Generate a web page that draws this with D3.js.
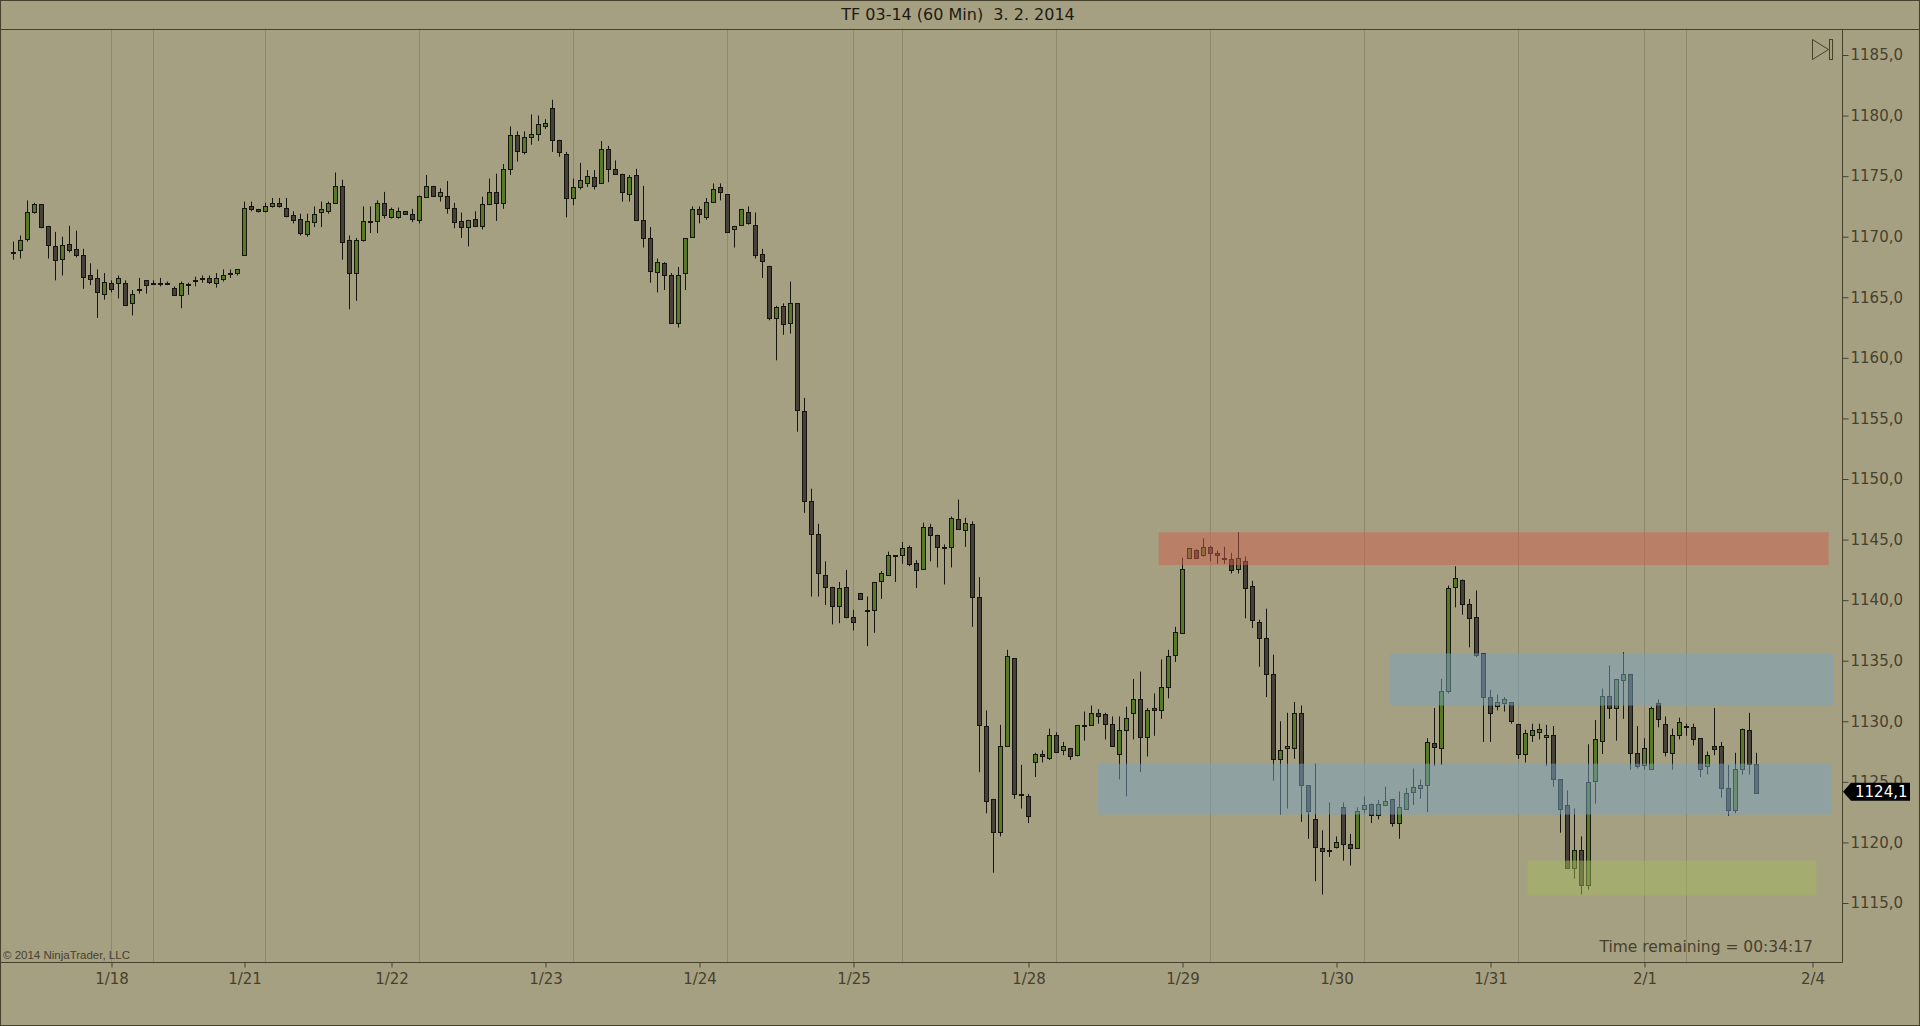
<!DOCTYPE html>
<html>
<head>
<meta charset="utf-8">
<script src="https://cdn.jsdelivr.net/npm/d3@7"></script>
<style>
  html, body { margin: 0; padding: 0; background: #a6a083; }
  svg { display: block; }
</style>
</head>
<body>
<svg width="1920" height="1026"></svg>
<script>

// 60 min bars, TF 03-14 (bar 0 = first bar on the left)
var opens = [
  1168.7,1168.9,1169.8,1172.0,1172.7,1170.9,1169.2,1168.2,1169.4,1169.0,
  1168.5,1166.8,1166.6,1165.3,1166.2,1166.2,1166.2,1164.5,1165.7,1166.4,
  1166.2,1166.2,1166.2,1165.8,1165.2,1166.1,1166.4,1166.6,1166.6,1166.2,
  1166.5,1167.0,1167.0,1168.5,1172.5,1172.3,1172.1,1172.5,1172.8,1172.4,
  1171.8,1171.5,1170.2,1171.2,1172.0,1172.1,1172.8,1174.2,1169.7,1167.0,
  1169.7,1171.3,1171.3,1172.8,1171.6,1171.6,1172.1,1171.9,1171.4,1173.3,
  1174.2,1173.4,1173.4,1172.4,1171.3,1170.8,1171.5,1170.9,1172.7,1173.7,
  1172.8,1175.6,1178.4,1177.0,1178.2,1178.5,1179.1,1180.6,1178.0,1176.8,
  1173.2,1174.1,1174.4,1174.9,1174.4,1177.2,1175.6,1175.2,1173.5,1175.1,
  1171.4,1169.9,1167.1,1167.8,1166.8,1162.9,1167.0,1170.0,1172.3,1171.6,
  1172.9,1174.1,1173.5,1170.6,1171.0,1172.0,1171.0,1168.6,1167.6,1163.3,
  1164.3,1162.9,1164.5,1155.6,1148.2,1145.5,1142.1,1141.1,1139.5,1141.1,
  1138.6,1140.6,1139.2,1139.2,1141.6,1142.1,1143.7,1143.7,1144.4,1143.1,
  1142.6,1146.0,1145.4,1144.4,1144.4,1146.7,1145.8,1146.3,1140.3,1129.6,
  1123.6,1120.9,1128.0,1135.2,1124.0,1123.8,1126.6,1127.3,1127.0,1128.9,
  1127.6,1127.8,1127.2,1129.7,1129.7,1130.7,1130.6,1129.8,1127.3,1129.3,
  1130.7,1131.8,1128.7,1131.1,1130.9,1132.8,1135.5,1137.3,1143.5,1144.1,
  1143.7,1144.4,1143.9,1143.5,1143.4,1142.6,1143.2,1141.2,1138.2,1136.9,
  1133.9,1126.9,1127.8,1127.8,1130.7,1124.7,1121.9,1119.5,1119.4,1119.6,
  1122.9,1119.9,1119.5,1122.8,1123.2,1122.3,1123.1,1123.6,1121.6,1122.8,
  1124.2,1124.5,1124.7,1128.2,1127.8,1132.5,1141.1,1141.7,1139.7,1138.6,
  1135.6,1132.0,1131.3,1131.5,1131.6,1129.8,1127.3,1128.9,1129.1,1128.7,
  1128.9,1125.2,1123.1,1117.9,1119.4,1116.5,1125.1,1128.4,1132.1,1131.1,
  1133.4,1133.9,1127.4,1126.4,1126.1,1131.5,1129.8,1127.4,1128.9,1129.6,
  1129.5,1128.6,1126.3,1128.0,1128.0,1124.5,1122.7,1126.1,1129.3,1126.5
];

var highs = [
  1169.6,1170.1,1173.0,1172.8,1172.7,1170.9,1170.4,1170.0,1170.9,1170.5,
  1169.0,1167.8,1167.3,1167.0,1166.4,1166.8,1166.4,1165.6,1166.6,1166.4,
  1166.4,1166.6,1166.3,1165.9,1166.3,1166.2,1166.7,1166.8,1166.8,1167.0,
  1167.3,1167.3,1167.3,1172.9,1172.9,1172.3,1172.8,1173.2,1173.2,1173.2,
  1172.1,1171.9,1171.9,1172.5,1172.9,1172.9,1175.3,1174.7,1170.1,1169.9,
  1172.5,1172.5,1173.0,1173.7,1172.4,1172.4,1172.1,1172.3,1173.4,1175.1,
  1174.2,1174.0,1174.6,1172.8,1172.0,1171.4,1172.1,1173.3,1174.8,1175.2,
  1176.0,1179.1,1178.7,1178.7,1180.1,1180.0,1179.7,1181.3,1178.0,1177.0,
  1174.8,1176.1,1175.5,1175.5,1177.9,1177.5,1176.3,1175.2,1175.1,1175.6,
  1174.2,1170.8,1168.2,1167.9,1167.0,1167.5,1169.9,1172.5,1172.5,1173.2,
  1174.4,1174.4,1173.5,1170.9,1172.3,1172.5,1172.0,1169.0,1167.6,1164.3,
  1164.5,1166.3,1164.5,1156.7,1149.2,1146.3,1143.2,1141.1,1141.5,1142.5,
  1139.2,1140.6,1140.3,1141.5,1142.4,1144.0,1143.7,1144.8,1144.5,1143.3,
  1146.4,1146.3,1145.4,1144.6,1146.9,1148.3,1146.8,1146.5,1141.9,1130.9,
  1123.6,1129.7,1135.9,1135.2,1126.4,1124.0,1127.4,1127.6,1129.4,1129.1,
  1128.3,1127.8,1129.7,1130.8,1131.3,1131.0,1130.7,1130.4,1130.4,1131.2,
  1133.5,1134.1,1131.1,1132.3,1135.1,1135.9,1137.8,1143.5,1144.3,1144.2,
  1145.1,1144.5,1144.1,1144.4,1143.9,1145.6,1143.6,1141.6,1138.4,1139.3,
  1135.5,1130.0,1130.7,1131.6,1131.3,1124.7,1126.5,1121.0,1123.3,1120.5,
  1123.3,1120.7,1122.9,1123.8,1123.2,1123.5,1124.6,1123.6,1124.2,1124.5,
  1126.1,1125.2,1128.6,1131.1,1133.5,1141.2,1142.8,1141.7,1140.1,1140.8,
  1135.6,1132.6,1132.2,1132.0,1131.6,1129.8,1129.3,1129.8,1129.8,1129.7,
  1129.6,1125.2,1124.3,1122.8,1120.5,1128.1,1130.1,1132.7,1134.6,1133.5,
  1135.7,1133.9,1129.6,1128.6,1131.2,1131.8,1130.4,1129.4,1130.3,1129.8,
  1129.8,1128.6,1127.5,1131.1,1128.3,1126.4,1127.4,1129.4,1130.7,1127.4
];

var lows = [
  1168.1,1168.2,1169.6,1171.9,1170.7,1168.2,1166.4,1166.8,1168.7,1168.3,
  1165.7,1166.0,1163.3,1164.8,1165.4,1164.9,1164.3,1163.5,1165.3,1165.3,
  1166.1,1165.9,1166.0,1165.1,1164.1,1165.2,1165.9,1166.2,1166.1,1165.8,
  1166.3,1166.6,1166.8,1168.5,1172.1,1172.0,1172.0,1172.4,1172.4,1171.6,
  1171.1,1170.1,1170.0,1170.8,1170.8,1171.9,1172.7,1168.1,1164.0,1164.7,
  1169.6,1170.3,1170.3,1171.5,1171.5,1171.5,1171.9,1171.2,1171.1,1173.2,
  1173.4,1172.9,1171.9,1170.7,1169.9,1169.2,1170.8,1170.6,1172.6,1171.3,
  1172.3,1175.1,1176.2,1176.8,1177.6,1177.9,1178.9,1177.0,1176.6,1171.6,
  1172.6,1173.9,1174.1,1173.9,1174.4,1174.5,1175.2,1172.9,1172.9,1171.3,
  1169.1,1166.2,1165.4,1165.6,1162.9,1162.5,1165.6,1169.9,1171.1,1171.4,
  1172.8,1173.0,1170.3,1169.1,1170.9,1171.0,1168.2,1166.6,1163.1,1159.8,
  1161.9,1162.0,1153.9,1147.2,1140.3,1140.3,1139.6,1138.0,1138.1,1138.5,
  1137.5,1140.1,1136.2,1137.3,1140.1,1142.1,1141.5,1143.0,1142.8,1141.0,
  1142.6,1143.2,1142.7,1141.3,1142.7,1145.8,1144.4,1137.8,1125.8,1122.4,
  1117.5,1120.5,1127.9,1123.6,1122.8,1121.6,1125.4,1126.6,1126.8,1127.5,
  1127.2,1126.8,1127.1,1128.4,1129.7,1129.8,1128.5,1127.9,1125.2,1123.8,
  1128.5,1125.8,1127.1,1128.8,1130.2,1131.9,1134.9,1137.3,1143.5,1143.5,
  1143.6,1143.2,1143.0,1143.0,1142.2,1142.2,1138.5,1137.7,1134.5,1132.0,
  1125.1,1122.3,1122.8,1126.9,1121.7,1120.3,1116.8,1115.7,1118.8,1119.5,
  1118.5,1118.1,1119.5,1122.4,1121.6,1121.9,1123.0,1121.3,1120.3,1122.7,
  1123.1,1123.6,1122.5,1126.3,1126.4,1132.3,1139.4,1138.8,1136.1,1135.3,
  1128.3,1128.3,1130.9,1130.8,1129.8,1126.9,1126.6,1128.3,1128.5,1126.3,
  1124.6,1120.8,1117.8,1117.0,1115.7,1116.1,1123.2,1127.3,1130.2,1128.4,
  1130.2,1126.0,1126.1,1126.0,1126.1,1129.5,1127.1,1126.0,1128.5,1128.8,
  1128.0,1125.4,1125.6,1127.2,1123.7,1122.2,1122.4,1125.6,1125.6,1124.0
];

var closes = [
  1168.7,1169.7,1172.0,1172.7,1170.8,1169.3,1168.1,1169.3,1168.9,1168.5,
  1166.7,1166.5,1165.4,1166.3,1165.7,1166.6,1164.4,1165.3,1165.7,1166.0,
  1166.2,1166.2,1166.1,1165.2,1166.2,1166.1,1166.4,1166.6,1166.3,1166.6,
  1166.8,1167.0,1167.3,1172.4,1172.3,1172.1,1172.5,1172.8,1172.5,1171.7,
  1171.4,1170.3,1171.3,1171.9,1172.3,1172.8,1174.2,1169.6,1167.0,1169.7,
  1171.3,1171.3,1172.8,1171.8,1172.3,1172.1,1171.9,1171.5,1173.4,1174.2,
  1173.4,1173.7,1172.4,1171.2,1170.8,1171.4,1170.9,1172.7,1173.7,1172.8,
  1175.6,1178.4,1177.1,1178.2,1178.5,1179.3,1179.4,1178.0,1177.0,1173.2,
  1174.1,1174.7,1175.0,1174.2,1177.2,1175.6,1175.2,1173.7,1174.9,1171.4,
  1169.9,1167.2,1167.9,1166.8,1162.9,1166.8,1169.9,1172.3,1171.9,1172.9,
  1173.9,1173.7,1170.4,1170.9,1172.3,1171.1,1168.5,1168.0,1163.3,1164.2,
  1162.8,1164.5,1155.7,1148.2,1145.5,1142.2,1141.1,1139.5,1141.0,1138.6,
  1138.2,1140.1,1139.2,1141.5,1142.2,1143.7,1143.7,1144.3,1143.0,1142.5,
  1146.0,1145.4,1144.4,1144.3,1146.8,1145.9,1146.4,1140.3,1129.7,1123.4,
  1120.9,1128.0,1135.4,1124.0,1124.0,1122.2,1127.3,1127.1,1128.9,1127.5,
  1128.0,1127.1,1129.7,1129.7,1130.7,1130.4,1129.8,1128.0,1129.3,1130.3,
  1131.8,1128.7,1130.9,1130.9,1132.8,1135.4,1137.4,1142.6,1144.3,1143.5,
  1144.4,1143.9,1143.7,1143.4,1142.5,1143.5,1141.0,1138.4,1136.9,1133.9,
  1126.9,1127.6,1128.0,1130.7,1124.7,1122.6,1119.6,1119.3,1119.4,1120.0,
  1119.9,1119.5,1122.6,1123.1,1122.3,1123.2,1123.4,1121.6,1122.9,1124.1,
  1124.6,1124.7,1128.3,1127.9,1132.5,1141.0,1141.8,1139.7,1138.5,1135.5,
  1132.0,1130.7,1131.6,1131.8,1130.0,1127.3,1129.0,1129.3,1129.4,1128.9,
  1125.2,1122.8,1117.9,1119.4,1116.5,1125.0,1128.5,1132.1,1131.1,1133.5,
  1133.9,1127.4,1126.3,1127.8,1131.1,1130.2,1127.5,1128.9,1129.9,1129.5,
  1128.5,1126.1,1127.2,1127.7,1124.5,1122.7,1126.1,1129.4,1126.5,1124.1
];

// date labels sit on these bars, vertical grid lines on the others
var tickBars = [14, 33, 54, 76, 98, 120, 145, 167, 189, 211, 233, 257];
var tickLabels = ["1/18", "1/21", "1/22", "1/23", "1/24", "1/25", "1/28", "1/29", "1/30", "1/31", "2/1", "2/4"];
var gridBars = [14, 20, 36, 58, 80, 102, 120, 127, 149, 171, 193, 215, 233, 239];

var priceTicks = [1115, 1120, 1125, 1130, 1135, 1140, 1145, 1150, 1155, 1160, 1165, 1170, 1175, 1180, 1185];

// drawn zones (supply red, blue ranges, green demand)
var zoneStart = [163.6, 196.6, 154.9, 216.3];
var zoneEnd = [259.3, 260.0, 259.7, 257.6];
var zoneLow = [1142.9, 1131.3, 1122.3, 1115.6];
var zoneHigh = [1145.6, 1135.6, 1126.5, 1118.5];
var zoneColor = ["#cc5e4c", "#78a4bf", "#78a4bf", "#a4b85e"];

var lastPrice = 1124.1;
var title = "TF 03-14 (60 Min)\u00a0\u00a03. 2. 2014";

var svg = d3.select("svg"),
    width = +svg.attr("width"),
    height = +svg.attr("height");

var plotTop = 29, plotRight = 1842, plotBottom = 962;
var ink = "#46412c", gridInk = "#8e886d";

var x = d3.scaleLinear()
    .domain([0, 249])
    .range([13.5, 1756.5]);

var y = d3.scaleLinear()
    .domain([1115, 1185])
    .range([903, 55]);

svg.append("rect")
    .attr("width", width).attr("height", height)
    .attr("fill", "#a6a083");

svg.append("clipPath").attr("id", "plot")
  .append("rect")
    .attr("x", 0).attr("y", plotTop)
    .attr("width", plotRight).attr("height", plotBottom - plotTop);

// vertical grid
svg.append("g")
  .selectAll("line")
  .data(gridBars)
  .enter().append("line")
    .attr("x1", function(d) { return x(d); })
    .attr("x2", function(d) { return x(d); })
    .attr("y1", plotTop)
    .attr("y2", plotBottom)
    .attr("stroke", gridInk);

var bars = d3.range(opens.length).map(function(i) {
  return { i: i, o: opens[i], h: highs[i], l: lows[i], c: closes[i] };
});

var plot = svg.append("g").attr("clip-path", "url(#plot)");

var candle = plot.selectAll("g.candle")
  .data(bars)
  .enter().append("g")
    .attr("class", "candle");

candle.append("line")
    .attr("x1", function(d) { return x(d.i); })
    .attr("x2", function(d) { return x(d.i); })
    .attr("y1", function(d) { return y(d.h); })
    .attr("y2", function(d) { return y(d.l); })
    .attr("stroke", "#15150e");

candle.append("rect")
    .attr("x", function(d) { return x(d.i) - 2; })
    .attr("width", 4)
    .attr("y", function(d) { return snap(y(Math.max(d.o, d.c))); })
    .attr("height", function(d) {
      return Math.max(1, snap(y(Math.min(d.o, d.c))) - snap(y(Math.max(d.o, d.c))));
    })
    .attr("fill", function(d) { return d.c >= d.o ? "#587a28" : "#46413b"; })
    .attr("stroke", "#15150e");

// zones are laid over the bars, half transparent
plot.selectAll("rect.zone")
  .data(zoneStart)
  .enter().append("rect")
    .attr("class", "zone")
    .attr("x", function(d) { return x(d); })
    .attr("width", function(d, i) { return x(zoneEnd[i]) - x(d); })
    .attr("y", function(d, i) { return y(zoneHigh[i]); })
    .attr("height", function(d, i) { return y(zoneLow[i]) - y(zoneHigh[i]); })
    .attr("fill", function(d, i) { return zoneColor[i]; })
    .attr("opacity", 0.5);

// price axis
var yAxis = svg.append("g")
    .attr("transform", "translate(" + (plotRight + 0.5) + ",0)")
    .call(d3.axisRight(y)
      .tickValues(priceTicks)
      .tickSize(6)
      .tickPadding(2)
      .tickFormat(function(d) { return d3.format(".1f")(d).replace(".", ","); }));
yAxis.select(".domain").remove();
yAxis.selectAll("line").attr("stroke", ink);
yAxis.selectAll("text")
    .attr("fill", ink)
    .style("font", "15px 'DejaVu Sans'");

// time axis
var xAxis = svg.append("g")
    .attr("transform", "translate(0," + (plotBottom + 0.5) + ")")
    .call(d3.axisBottom(x)
      .tickValues(tickBars)
      .tickSize(5)
      .tickPadding(6)
      .tickFormat(function(d, i) { return tickLabels[i]; }));
xAxis.select(".domain").remove();
xAxis.selectAll("line").attr("stroke", ink);
xAxis.selectAll("text")
    .attr("fill", ink)
    .style("font", "15px 'DejaVu Sans'");

// frame lines
svg.append("line")
    .attr("x1", 0).attr("x2", width)
    .attr("y1", plotTop + 0.5).attr("y2", plotTop + 0.5)
    .attr("stroke", ink);
svg.append("line")
    .attr("x1", 0).attr("x2", plotRight + 0.5)
    .attr("y1", plotBottom + 0.5).attr("y2", plotBottom + 0.5)
    .attr("stroke", ink);
svg.append("line")
    .attr("x1", plotRight + 0.5).attr("x2", plotRight + 0.5)
    .attr("y1", plotTop).attr("y2", plotBottom + 0.5)
    .attr("stroke", ink);
svg.append("rect")
    .attr("x", 0.5).attr("y", 0.5)
    .attr("width", width - 1).attr("height", height - 1)
    .attr("fill", "none")
    .attr("stroke", ink);

svg.append("text")
    .attr("x", width / 2 - 2)
    .attr("y", 20)
    .attr("text-anchor", "middle")
    .attr("fill", "#1c1b12")
    .style("font", "16px 'DejaVu Sans'")
    .text(title);

svg.append("text")
    .attr("x", 1813)
    .attr("y", 952)
    .attr("text-anchor", "end")
    .attr("fill", ink)
    .style("font", "15.5px 'DejaVu Sans'")
    .text("Time remaining = 00:34:17");

svg.append("text")
    .attr("x", 3)
    .attr("y", 959)
    .attr("fill", ink)
    .style("font", "11.5px 'Liberation Sans'")
    .text("\u00a9 2014 NinjaTrader, LLC");

// scroll-to-end button, top right
svg.append("path")
    .attr("d", "M1812.5,39.5 L1828.5,49.5 L1812.5,59.5 Z")
    .attr("fill", "none")
    .attr("stroke", ink);
svg.append("rect")
    .attr("x", 1829.5).attr("y", 39.5)
    .attr("width", 3).attr("height", 20)
    .attr("fill", "none")
    .attr("stroke", ink);

// last price tag, drawn over the 1125,0 label as in the original
var py = y(lastPrice) - 1;
svg.append("path")
    .attr("d", "M" + (plotRight + 1) + "," + py +
               " L" + (plotRight + 9) + "," + (py - 9) +
               " L1910," + (py - 9) +
               " L1910," + (py + 9) +
               " L" + (plotRight + 9) + "," + (py + 9) + " Z")
    .attr("fill", "#000");
svg.append("text")
    .attr("x", 1855)
    .attr("y", py + 5.5)
    .attr("fill", "#fff")
    .style("font", "15px 'DejaVu Sans'")
    .text(d3.format(".1f")(lastPrice).replace(".", ","));

function snap(v) {
  return Math.round(v) + 0.5;
}

</script>
</body>
</html>
